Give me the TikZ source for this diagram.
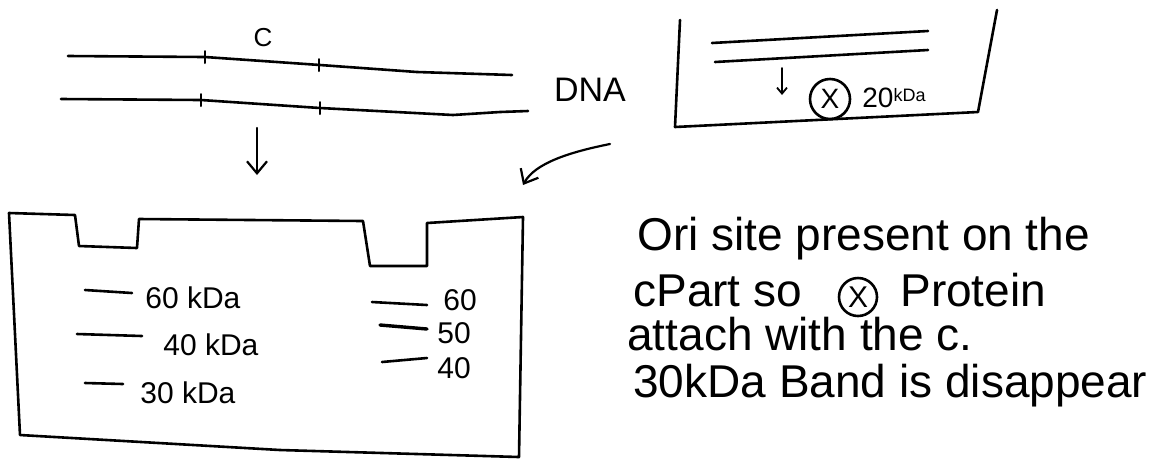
\documentclass[tikz,border=0pt]{standalone}
\usepackage{fontspec}
\setmainfont{Liberation Sans}
\usetikzlibrary{arrows.meta}
\begin{document}
\begin{tikzpicture}[x=0.5pt,y=-0.5pt, line cap=round, line join=round,
  ink/.style={line width=1.3pt},
  fineink/.style={line width=1pt},
  hand/.style={font=\fontsize{23}{27}\selectfont, inner sep=0pt, anchor=base west},
  lab/.style={font=\fontsize{15}{17}\selectfont, inner sep=0pt, anchor=west},
  circx/.style={draw, ink, circle, inner sep=0pt},
  barb/.style={-{Straight Barb[length=6pt,width=10pt,line width=1.1pt]}, line width=1.1pt},
  smallbarb/.style={-{Straight Barb[length=3pt,width=5pt,line width=0.9pt]}, line width=0.9pt}]
\useasboundingbox (0,0) rectangle (1159,462);

% DNA strands
\draw[ink] (68,56) -- (205,57) -- (320,65) -- (417,72) -- (512,75);
\draw[fineink] (205,51) -- (205,63);
\draw[fineink] (319,59) -- (319,71);
\draw[ink] (61,99) -- (201,100) -- (320,108) -- (453,115) -- (500,112) -- (528,111);
\draw[fineink] (201,94) -- (201,106);
\draw[fineink] (320,102) -- (320,114);
\node[font=\fontsize{13}{15}\selectfont, inner sep=0pt] (c) at (263,38) {C};
\node[font=\fontsize{17}{19}\selectfont, inner sep=0pt] (dna) at (590,90) {DNA};

% arrow DNA -> gel
\coordinate (a1) at (257,128);
\coordinate (a2) at (257,175);
\draw[barb] (a1) -- (a2);

% top-right box
\draw[ink] (680,20) -- (675,127) -- (978,112) -- (997,10);
\draw[ink] (712,43) -- (928,31);
\draw[ink] (715,62) -- (928,50);
\coordinate (b1) at (782,68);
\coordinate (b2) at (782,95);
\draw[smallbarb] (b1) -- (b2);
\node[circx, minimum size=20pt, font=\fontsize{14}{16}\selectfont] (x) at (830,99) {X};
\node[font=\fontsize{14}{16}\selectfont, inner sep=0pt, anchor=west] (kda20) at (862,98) {20\raisebox{3pt}{\fontsize{9}{10}\selectfont kDa}};

% curved arrow box -> gel
\coordinate (c1) at (610,144);
\coordinate (c2) at (523,185);
\draw[barb] (c1) .. controls (570,152) and (535,163) .. (c2);

% gel
\draw[ink] (9,213) -- (75,215) -- (79,246) -- (137,248) -- (139,219) -- (363,221)
  -- (370,266) -- (427,266) -- (427,223) -- (523,217) -- (519,457) -- (280,450)
  -- (20,435) -- cycle;

% bands left lane
\draw[ink] (85,290) -- (132,293);
\node[lab] (l60) at (145,298) {60 kDa};
\draw[ink] (77,334) -- (142,336);
\node[lab] (l40) at (163,345) {40 kDa};
\draw[ink] (85,383) -- (123,384);
\node[lab] (l30) at (140,393) {30 kDa};

% bands right lane
\draw[ink] (372,302) -- (427,305);
\node[lab] (r60) at (443,300) {60};
\draw[line width=1.7pt] (380,325) -- (427,329);
\node[lab] (r50) at (437,333) {50};
\draw[ink] (382,362) -- (427,358);
\node[lab] (r40) at (437,368) {40};

% explanatory text
\node[hand] (t1) at (637,250) {Ori site present on the};
\node[hand] (t2) at (633,306) {cPart so};
\node[circx, minimum size=19pt, font=\fontsize{15}{17}\selectfont] (x2) at (858,297) {X};
\node[hand] (t2b) at (900,306) {Protein};
\node[hand] (t3) at (627,350) {attach with the c.};
\node[hand] (t4) at (633,397) {30kDa Band is disappear};
\end{tikzpicture}
\end{document}
